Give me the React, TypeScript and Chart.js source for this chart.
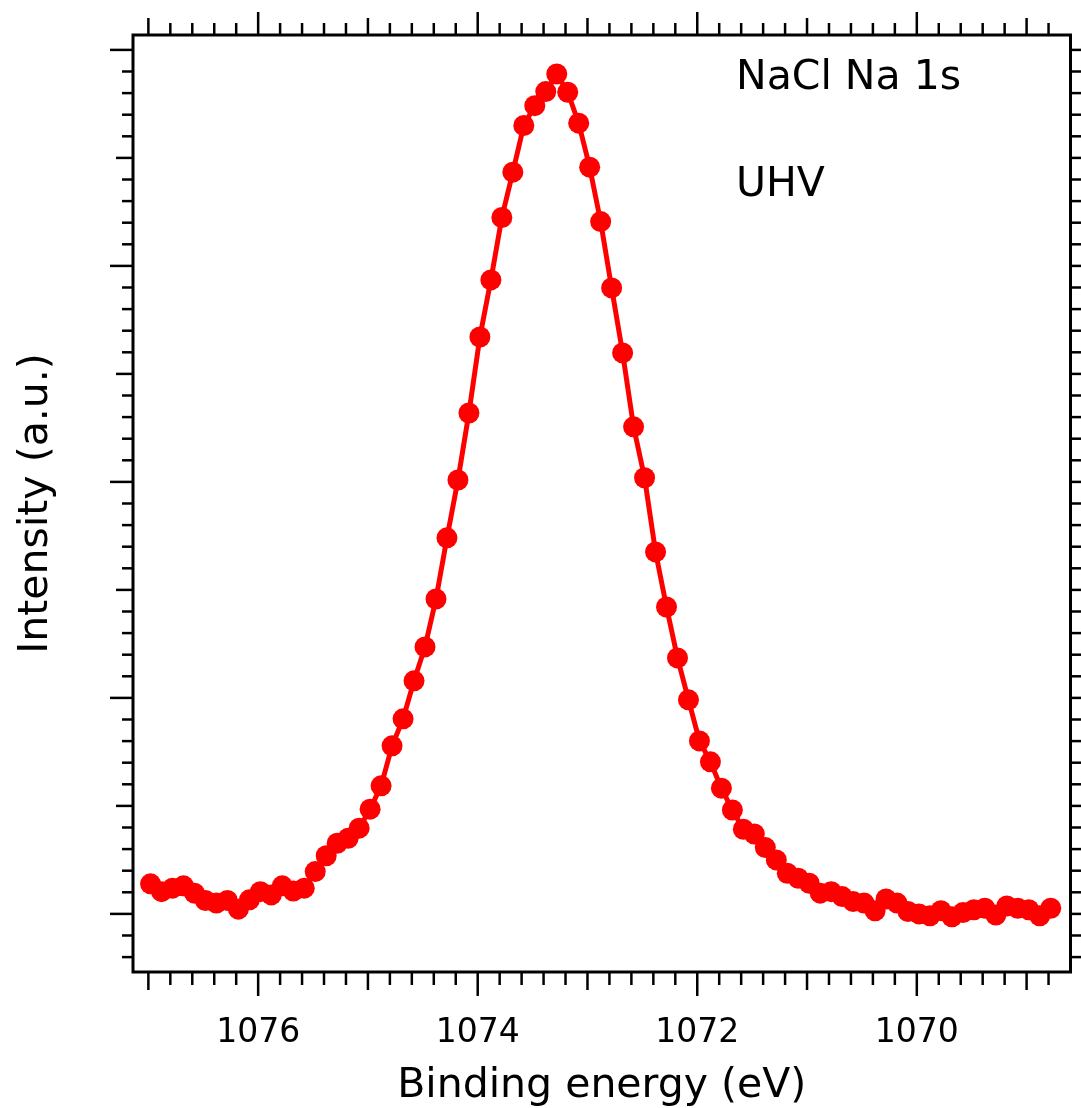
import React, { useEffect, useRef } from "react";
import { Chart, registerables } from "chart.js";

Chart.register(...registerables);

// Binding energy grid (eV), as sampled in the measurement
const bindingEnergy = [
  1076.98, 1076.88, 1076.78, 1076.68, 1076.58, 1076.48, 1076.38, 1076.28, 1076.18, 1076.08,
  1075.98, 1075.88, 1075.78, 1075.68, 1075.58, 1075.48, 1075.38, 1075.28, 1075.18, 1075.08,
  1074.98, 1074.88, 1074.78, 1074.68, 1074.58, 1074.48, 1074.38, 1074.28, 1074.18, 1074.08,
  1073.98, 1073.88, 1073.78, 1073.68, 1073.58, 1073.48, 1073.38, 1073.28, 1073.18, 1073.08,
  1072.98, 1072.88, 1072.78, 1072.68, 1072.58, 1072.48, 1072.38, 1072.28, 1072.18, 1072.08,
  1071.98, 1071.88, 1071.78, 1071.68, 1071.58, 1071.48, 1071.38, 1071.28, 1071.18, 1071.08,
  1070.98, 1070.88, 1070.78, 1070.68, 1070.58, 1070.48, 1070.38, 1070.28, 1070.18, 1070.08,
  1069.98, 1069.88, 1069.78, 1069.68, 1069.58, 1069.48, 1069.38, 1069.28, 1069.18, 1069.08,
  1068.98, 1068.88, 1068.78,
];

// Na 1s intensity (a.u.)
const intensity = [
  1.39, 1.03, 1.19, 1.30, 0.96, 0.62, 0.50, 0.62, 0.22, 0.65,
  1.03, 0.88, 1.30, 1.06, 1.19, 1.96, 2.69, 3.27, 3.50, 3.97,
  4.85, 5.93, 7.78, 9.03, 10.79, 12.36, 14.58, 17.41, 20.09, 23.19,
  26.71, 29.35, 32.24, 34.34, 36.50, 37.42, 38.07, 38.89, 38.04, 36.61,
  34.57, 32.05, 28.98, 25.97, 22.55, 20.19, 16.76, 14.21, 11.85, 9.91,
  8.01, 7.04, 5.82, 4.81, 3.92, 3.70, 3.07, 2.50, 1.88, 1.65,
  1.42, 0.96, 1.03, 0.80, 0.57, 0.50, 0.14, 0.69, 0.50, 0.11,
  0.00, -0.09, 0.15, -0.13, 0.06, 0.19, 0.26, -0.05, 0.37, 0.26,
  0.19, -0.09, 0.26,
];

const xTickLabels = [1076, 1074, 1072, 1070];
const xAxisTitle = "Binding energy (eV)";
const yAxisTitle = "Intensity (a.u.)";
const annotationLines = ["NaCl Na 1s", "UHV"];

const X_MIN = 1068.6;
const X_MAX = 1077.14;
const Y_MIN = -2.69;
const Y_MAX = 40.69;

const FONT = '"DejaVu Sans", Verdana, sans-serif';

const framePlugin = {
  id: "igorFrame",
  afterDraw(chart: any) {
    const { ctx, chartArea: a, scales } = chart;
    const x = scales.x;
    const y = scales.y;
    ctx.save();
    ctx.strokeStyle = "#000";
    ctx.lineCap = "butt";
    const seg = (x1: number, y1: number, x2: number, y2: number) => {
      ctx.beginPath();
      ctx.moveTo(x1, y1);
      ctx.lineTo(x2, y2);
      ctx.stroke();
    };
    ctx.lineWidth = 2.5;
    // x ticks every 0.2 eV
    for (let k = Math.ceil(X_MIN * 5 - 1e-6); k <= Math.floor(X_MAX * 5 + 1e-6); k++) {
      const v = k / 5;
      const px = x.getPixelForValue(v);
      if (px <= a.left + 1 || px >= a.right - 1) continue;
      const isMajor = k % 10 === 0;
      const isInt = k % 5 === 0;
      const lenTop = isMajor ? 23 : isInt ? 17 : 12;
      const lenBot = isMajor ? 24 : isInt ? 18 : 13;
      seg(px, a.top, px, a.top - lenTop);
      seg(px, a.bottom, px, a.bottom + lenBot);
    }
    // y ticks every unit
    for (let v = Math.ceil(Y_MIN); v <= Math.floor(Y_MAX); v++) {
      const py = y.getPixelForValue(v);
      const len = v % 10 === 0 ? 23 : v % 5 === 0 ? 17 : 11;
      seg(a.left, py, a.left - len, py);
      seg(a.right, py, a.right + len, py);
    }
    // frame
    ctx.lineWidth = 3;
    ctx.strokeRect(a.left, a.top, a.right - a.left, a.bottom - a.top);

    // tick labels
    ctx.fillStyle = "#000";
    ctx.font = `33px ${FONT}`;
    ctx.textAlign = "center";
    ctx.textBaseline = "alphabetic";
    xTickLabels.forEach((v) => {
      ctx.fillText(String(v), x.getPixelForValue(v), a.bottom + 70);
    });

    // axis titles
    ctx.font = `41px ${FONT}`;
    ctx.fillText(xAxisTitle, (a.left + a.right) / 2, a.bottom + 125);

    ctx.save();
    ctx.font = `41px ${FONT}`;
    ctx.translate(47, (a.top + a.bottom) / 2);
    ctx.rotate(-Math.PI / 2);
    ctx.textAlign = "center";
    ctx.fillText(yAxisTitle, 0, 0);
    ctx.restore();

    // annotations
    ctx.font = `41px ${FONT}`;
    ctx.textAlign = "left";
    ctx.fillText(annotationLines[0], 736, 89);
    ctx.fillText(annotationLines[1], 736, 196);
    ctx.restore();
  },
};

export default function App() {
  const canvasRef = useRef<HTMLCanvasElement | null>(null);

  useEffect(() => {
    const canvas = canvasRef.current;
    if (!canvas) return;
    const points = bindingEnergy.map((e, i) => ({ x: e, y: intensity[i] }));
    const chart = new Chart(canvas, {
      type: "line",
      data: {
        datasets: [
          {
            data: points,
            borderColor: "#ff0000",
            backgroundColor: "#ff0000",
            borderWidth: 5,
            pointRadius: 10.5,
            pointHoverRadius: 10.5,
            pointBackgroundColor: "#ff0000",
            pointBorderWidth: 0,
            tension: 0,
            fill: false,
          },
        ],
      },
      options: {
        responsive: false,
        animation: false,
        devicePixelRatio: 1,
        layout: { padding: { left: 133, right: 10, top: 35, bottom: 136 } },
        plugins: {
          legend: { display: false },
          tooltip: { enabled: false },
          title: { display: false },
        },
        events: [],
        scales: {
          x: {
            type: "linear",
            reverse: true,
            min: X_MIN,
            max: X_MAX,
            display: false,
          },
          y: {
            type: "linear",
            min: Y_MIN,
            max: Y_MAX,
            display: false,
          },
        },
      },
      plugins: [framePlugin],
    });
    return () => chart.destroy();
  }, []);

  return (
    <div
      style={{
        position: "absolute",
        left: 0,
        top: 0,
        width: 1081,
        height: 1108,
        background: "#ffffff",
      }}
    >
      <canvas ref={canvasRef} width={1081} height={1108} />
    </div>
  );
}
